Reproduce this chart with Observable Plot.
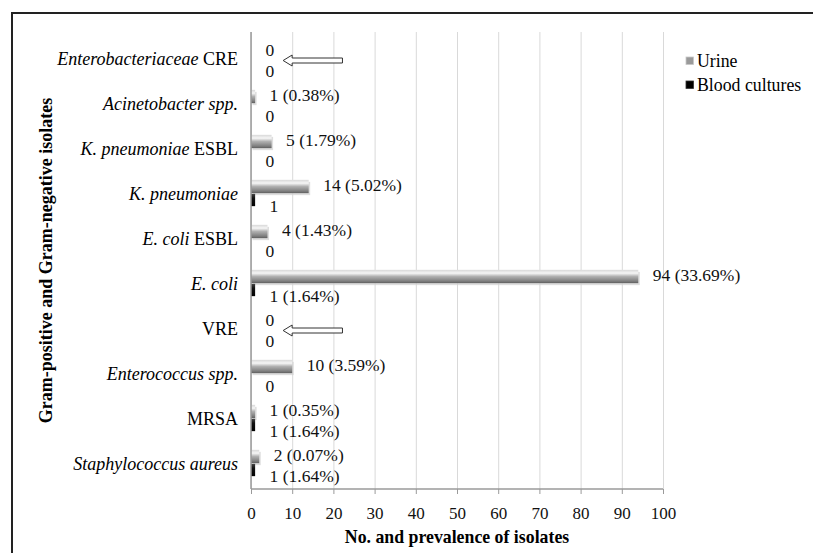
<!DOCTYPE html>
<html><head><meta charset="utf-8">
<script src="https://cdn.jsdelivr.net/npm/d3@7"></script>
<script src="https://cdn.jsdelivr.net/npm/@observablehq/plot@0.6"></script>
<style>
html,body{margin:0;padding:0;background:#fff;overflow:hidden;}
#chart{position:relative;width:813px;height:553px;overflow:hidden;background:#fff;}
#frame{position:absolute;left:11px;top:12px;width:1000px;height:1000px;border-left:2.5px solid #222;border-top:2.5px solid #222;}
#chart svg{position:absolute;left:0;top:0;display:block;}
</style></head><body><div id="chart"><div id="frame"></div></div>
<script>
// ---- data ----
const categoriesItalic = ["Enterobacteriaceae", "Acinetobacter spp.", "K. pneumoniae", "K. pneumoniae", "E. coli", "E. coli", "", "Enterococcus spp.", "", "Staphylococcus aureus"];
const categoriesSuffix = [" CRE", "", " ESBL", "", " ESBL", "", "VRE", "", "MRSA", ""];
const categories = categoriesItalic.map((d, i) => d + categoriesSuffix[i]);
const urineValues = [0, 1, 5, 14, 4, 94, 0, 10, 1, 2];
const bloodValues = [0, 0, 0, 1, 0, 1, 0, 0, 1, 1];
const urineLabels = ["0", "1 (0.38%)", "5 (1.79%)", "14 (5.02%)", "4 (1.43%)", "94 (33.69%)", "0", "10 (3.59%)", "1 (0.35%)", "2 (0.07%)"];
const bloodLabels = ["0", "0", "0", "1", "0", "1 (1.64%)", "0", "0", "1 (1.64%)", "1 (1.64%)"];
const xTicks = [0, 10, 20, 30, 40, 50, 60, 70, 80, 90, 100];
const seriesNames = ["Urine", "Blood cultures"];
const arrowCategories = ["Enterobacteriaceae CRE", "VRE"];
const arrowTip = 7.8, arrowEnd = 22.2;
const xTitle = "No. and prevalence of isolates";
const yTitle = "Gram-positive and Gram-negative isolates";

const rows = categories.map((c, i) => ({
  category: c, urine: urineValues[i], blood: bloodValues[i],
  urineLabel: urineLabels[i], bloodLabel: bloodLabels[i]
}));

// ---- layout ----
const W = 813, H = 553;
const mL = 251, mR = 150, mT = 32, mB = 64;
const bandH = (H - mT - mB) / categories.length;
const barH = 14;
const serif = "'Liberation Serif', 'Times New Roman', serif";

function decorations(index, scales, values, dims) {
  const x = scales.x, y = scales.y;
  const bw = y.bandwidth ? y.bandwidth() : bandH;
  const g = d3.create("svg:g").attr("font-family", serif).attr("text-anchor", "start");
  const defs = g.append("defs");
  const ug = defs.append("linearGradient").attr("id", "urineGrad").attr("x1", 0).attr("y1", 0).attr("x2", 0).attr("y2", 1);
  [[0, "#d8d8d8"], [0.25, "#f6f6f6"], [0.5, "#b0b0b0"], [0.85, "#7e7e7e"], [1, "#5e5e5e"]].forEach(([o, c]) => ug.append("stop").attr("offset", o).attr("stop-color", c));
  const bg = defs.append("linearGradient").attr("id", "bloodGrad").attr("x1", 0).attr("y1", 0).attr("x2", 0).attr("y2", 1);
  [[0, "#444"], [0.35, "#111"], [1, "#000"]].forEach(([o, c]) => bg.append("stop").attr("offset", o).attr("stop-color", c));

  // axis lines
  const x0 = x(0), yB = H - mB;
  g.append("line").attr("x1", x0).attr("x2", x0).attr("y1", mT).attr("y2", yB).attr("stroke", "#9a9a9a").attr("stroke-width", 1.5);
  g.append("line").attr("x1", x0).attr("x2", x(100)).attr("y1", yB).attr("y2", yB).attr("stroke", "#9a9a9a").attr("stroke-width", 1.5);

  // category labels with mixed italic
  categories.forEach((c, i) => {
    const t = g.append("text").attr("x", x0 - 13).attr("y", y(c) + bw / 2).attr("dy", "0.35em")
      .attr("text-anchor", "end").attr("font-size", 18).attr("fill", "#000");
    if (categoriesItalic[i]) t.append("tspan").attr("font-style", "italic").text(categoriesItalic[i]);
    if (categoriesSuffix[i]) t.append("tspan").text(categoriesSuffix[i]);
  });

  // hollow arrows
  arrowCategories.forEach(c => {
    const cy = y(c) + bw / 2 + 2;
    const xa = x(arrowTip), xb = x(arrowEnd);
    const hw = 2.5, hh = 5.5, hl = 9;
    g.append("path")
      .attr("d", `M${xa},${cy} L${xa + hl},${cy - hh} L${xa + hl},${cy - hw} L${xb},${cy - hw} L${xb},${cy + hw} L${xa + hl},${cy + hw} L${xa + hl},${cy + hh} Z`)
      .attr("fill", "#fff").attr("stroke", "#333").attr("stroke-width", 1);
  });

  // titles
  g.append("text").attr("x", (x0 + x(100)) / 2).attr("y", 537).attr("dy", "0.35em").attr("text-anchor", "middle")
    .attr("font-weight", "bold").attr("font-size", 17.8).attr("fill", "#000").text(xTitle);
  g.append("text").attr("transform", `translate(46,${(mT + yB) / 2}) rotate(-90)`).attr("dy", "0.35em").attr("text-anchor", "middle")
    .attr("font-weight", "bold").attr("font-size", 18).attr("fill", "#000").text(yTitle);

  // legend
  seriesNames.forEach((s, i) => {
    const cy = 60.5 + i * 24;
    g.append("rect").attr("x", 686).attr("y", cy - 3.5).attr("width", 7.5).attr("height", 7.5)
      .attr("fill", i === 0 ? "#9a9a9a" : "#000").attr("stroke", i === 0 ? "#c8c8c8" : "#333").attr("stroke-width", 0.8);
    g.append("text").attr("x", 697).attr("y", cy).attr("dy", "0.35em").attr("text-anchor", "start")
      .attr("font-size", 17.8).attr("fill", "#000").text(s);
  });
  return g.node();
}

const plot = Plot.plot({
  width: W, height: H,
  marginLeft: mL, marginRight: mR, marginTop: mT, marginBottom: mB,
  style: {fontFamily: serif, fontSize: "17px", color: "#111", background: "transparent", overflow: "hidden"},
  x: {domain: [0, 100], label: null},
  y: {domain: categories, padding: 0, axis: null, label: null},
  marks: [
    Plot.gridX(xTicks, {stroke: "#d9d9d9", strokeOpacity: 1, strokeWidth: 1}),
    Plot.axisX(xTicks, {tickSize: 5, tickPadding: 12, stroke: "#9a9a9a", fill: "#111", fontSize: 17, label: null}),
    Plot.barX(rows, {y: "category", x: "urine", fill: "#d0d0d0", insetTop: bandH / 2 - barH, insetBottom: bandH / 2, dx: 1.5, dy: 2, fillOpacity: 0.7}),
    Plot.barX(rows, {y: "category", x: "urine", fill: "url(#urineGrad)", insetTop: bandH / 2 - barH, insetBottom: bandH / 2}),
    Plot.barX(rows, {y: "category", x: "blood", fill: "url(#bloodGrad)", insetTop: bandH / 2, insetBottom: bandH / 2 - barH + 1}),
    decorations,
    Plot.text(rows, {y: "category", x: "urine", text: "urineLabel", textAnchor: "start", dx: 14, dy: -9, fontSize: 17.5, fill: "#111"}),
    Plot.text(rows, {y: "category", x: "blood", text: "bloodLabel", textAnchor: "start", dx: 14, dy: 12, fontSize: 17.5, fill: "#111"})
  ]
});
document.getElementById("chart").appendChild(plot);
</script>
</body></html>
